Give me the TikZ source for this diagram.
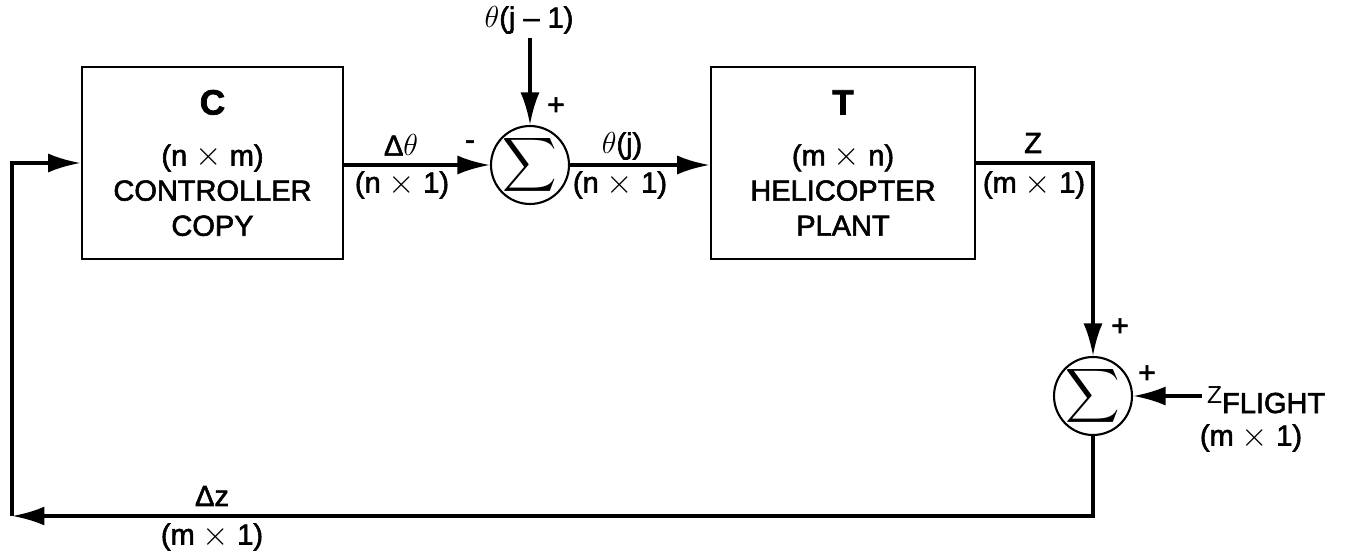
\documentclass[tikz,border=0pt]{standalone}
\usepackage{fontspec}
\setmainfont{Liberation Sans}[FakeBold=2]
\newfontfamily\plainsans{Liberation Sans}
\usetikzlibrary{positioning, arrows.meta, calc}
\newcommand{\tms}{\raisebox{-0.3pt}{\scalebox{1.12}{$\times$}}}

\begin{document}
\begin{tikzpicture}[
  x=0.02cm, y=-0.02cm,
  font=\fontsize{16.5}{20}\selectfont,
  block/.style={draw, line width=1.5pt, minimum height=3.84cm, align=center,
              inner sep=0pt},
  sumnode/.style={draw, circle, line width=1.2pt, minimum size=1.56cm, inner sep=-12pt},
  lbl/.style={inner sep=1pt},
  sgn/.style={inner sep=0pt, font=\fontsize{17}{17}\selectfont},
  arr/.style={-{Latex[length=6.5mm, width=3.8mm]}, line width=2.1pt}
]
  \useasboundingbox (0,0) rectangle (1349,554);

  % blocks
  \node[block, minimum width=5.22cm] (ctrl) at (212.5,163)
    {{\fontsize{20}{20}\selectfont\bfseries C}\\[9pt] (n \tms{} m)\\ CONTROLLER\\ COPY};
  \node[block, minimum width=5.28cm] (plant) at (843,163)
    {{\fontsize{20}{20}\selectfont\bfseries T}\\[9pt] (m \tms{} n)\\ HELICOPTER\\ PLANT};

  % summing junctions
  \node[sumnode] (sumA) at (530,165) {\scalebox{2.15}{$\displaystyle\sum$}};
  \node[sumnode] (sumB) at (1093,396) {\scalebox{2.15}{$\displaystyle\sum$}};

  % free ends
  \coordinate (thin) at (530,38);
  \coordinate (zin) at (1202,396);
  \coordinate (corner) at (12,516);

  % texts
  \node[lbl] (thlabel) at (529,20) {$\theta$(j -- 1)};
  \node[lbl] (dthlabel) at (401,145) {Δ$\theta$};
  \node[lbl] (dthsize) at (402,185) {(n \tms{} 1)};
  \node[lbl] (thjlabel) at (622,146) {$\theta$(j)};
  \node[lbl] (thjsize) at (620,185) {(n \tms{} 1)};
  \node[lbl] (zlabel) at (1033,143) {Z};
  \node[lbl] (zsize) at (1034,185) {(m \tms{} 1)};
  \node[lbl, anchor=base west] (zflight) at (1205,413)
    {\raisebox{5.5pt}{\plainsans\fontsize{14}{14}\selectfont Z}FLIGHT};
  \node[lbl] (zfsize) at (1251,438) {(m \tms{} 1)};
  \node[lbl] (dzlabel) at (212,496) {Δz};
  \node[lbl] (dzsize) at (212,537) {(m \tms{} 1)};

  % signs
  \node[sgn] (pA) at (556,106) {+};
  \node[sgn] (mA) at (470,145) {-};
  \node[sgn] (pB) at (1120,327) {+};
  \node[sgn] (pC) at (1147,374) {+};

  % connectors
  \draw[arr] (ctrl.east |- sumA.west) -- (sumA.west);
  \draw[arr] (thin) -- (sumA.north);
  \draw[arr] (sumA.east) -- (plant.west |- sumA.east);
  \draw[arr] (plant.east) -| (sumB.north);
  \draw[arr] (zin) -- (sumB.east);
  \draw[arr] (sumB.south) |- (corner);
  \draw[arr] (corner) |- (ctrl.west);
\end{tikzpicture}
\end{document}
